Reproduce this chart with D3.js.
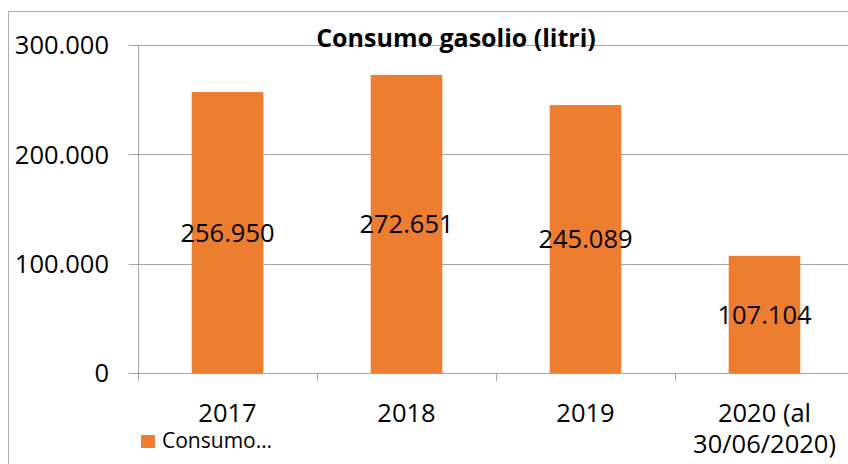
<!DOCTYPE html>
<html>
<head>
<meta charset="utf-8">
<script src="https://cdn.jsdelivr.net/npm/d3@7"></script>
<style>
  body { margin: 0; background: #fff; }
  svg { display: block; font-family: 'Open Sans', sans-serif; }
</style>
</head>
<body>
<svg width="848" height="464"></svg>
<script>
var years = ['2017', '2018', '2019', '2020 (al|30/06/2020)'];
var consumo = [256950, 272651, 245089, 107104];
var yTicks = [0, 100000, 200000, 300000];

var svg = d3.select('svg');
var barColor = '#ED7D31';
var gridColor = '#a6a6a6';

var plot = {l: 138, r: 854, t: 45, b: 373};

// outer chart border (cropped on right and bottom)
svg.append('rect')
  .attr('x', 8.5).attr('y', 11.5)
  .attr('width', 900).attr('height', 500)
  .attr('fill', 'none')
  .attr('stroke', '#b0b0b0');

var xScale = d3.scaleBand()
  .domain(years)
  .range([plot.l, plot.r])
  .paddingInner(0.6)
  .paddingOuter(0.3);

var yScale = d3.scaleLinear()
  .domain([0, 300000])
  .range([plot.b, plot.t]);

var fmt = function(v) {
  return d3.format(',')(v).replace(/,/g, '.');
};

// gridlines + y tick labels
var yAxis = svg.append('g').attr('class', 'y-axis');
yAxis.selectAll('line.grid')
  .data(yTicks)
  .enter().append('line')
  .attr('x1', plot.l - 9).attr('x2', 848)
  .attr('y1', function(d) { return Math.round(yScale(d)) + 0.5; })
  .attr('y2', function(d) { return Math.round(yScale(d)) + 0.5; })
  .attr('stroke', gridColor);

yAxis.selectAll('text')
  .data(yTicks)
  .enter().append('text')
  .attr('x', 109)
  .attr('y', function(d) { return yScale(d); })
  .attr('dy', '0.36em')
  .attr('text-anchor', 'end')
  .attr('font-size', 25.5)
  .attr('fill', '#000')
  .text(fmt);

svg.append('line')
  .attr('x1', plot.l + 0.5).attr('x2', plot.l + 0.5)
  .attr('y1', plot.t).attr('y2', plot.b + 8)
  .attr('stroke', gridColor);

// category ticks
var step = xScale.step();
svg.selectAll('line.xtick')
  .data(d3.range(years.length + 1))
  .enter().append('line')
  .attr('class', 'xtick')
  .attr('x1', function(i) { return Math.round(plot.l + i * step) + 0.5; })
  .attr('x2', function(i) { return Math.round(plot.l + i * step) + 0.5; })
  .attr('y1', plot.b).attr('y2', plot.b + 8)
  .attr('stroke', gridColor);

// bars
svg.selectAll('rect.bar')
  .data(consumo)
  .enter().append('rect')
  .attr('class', 'bar')
  .attr('x', function(d, i) { return xScale(years[i]); })
  .attr('y', function(d) { return yScale(d); })
  .attr('width', xScale.bandwidth())
  .attr('height', function(d) { return plot.b - yScale(d); })
  .attr('fill', barColor);

// data labels
svg.selectAll('text.value')
  .data(consumo)
  .enter().append('text')
  .attr('class', 'value')
  .attr('x', function(d, i) { return xScale(years[i]) + xScale.bandwidth() / 2; })
  .attr('y', function(d) { return (yScale(d) + plot.b) / 2; })
  .attr('dy', '0.36em')
  .attr('text-anchor', 'middle')
  .attr('font-size', 25.5)
  .attr('fill', '#000')
  .text(fmt);

// category labels
var xLabels = svg.selectAll('text.cat')
  .data(years)
  .enter().append('text')
  .attr('class', 'cat')
  .attr('text-anchor', 'middle')
  .attr('font-size', 25.5)
  .attr('fill', '#000')
  .attr('x', function(d) { return xScale(d) + xScale.bandwidth() / 2; })
  .attr('y', 422);

xLabels.each(function(d) {
  var t = d3.select(this);
  d.split('|').forEach(function(line, k) {
    t.append('tspan')
      .attr('x', xScale(d) + xScale.bandwidth() / 2)
      .attr('dy', k === 0 ? 0 : 31)
      .text(line);
  });
});

// title
svg.append('text')
  .attr('x', 456)
  .attr('y', 47)
  .attr('text-anchor', 'middle')
  .attr('font-size', 25)
  .attr('font-weight', 'bold')
  .attr('fill', '#000')
  .text('Consumo gasolio (litri)');

// legend
svg.append('rect')
  .attr('x', 141).attr('y', 435)
  .attr('width', 14).attr('height', 13)
  .attr('fill', barColor);

svg.append('text')
  .attr('x', 162).attr('y', 448)
  .attr('font-size', 21)
  .attr('fill', '#000')
  .text('Consumo…');
</script>
</body>
</html>
